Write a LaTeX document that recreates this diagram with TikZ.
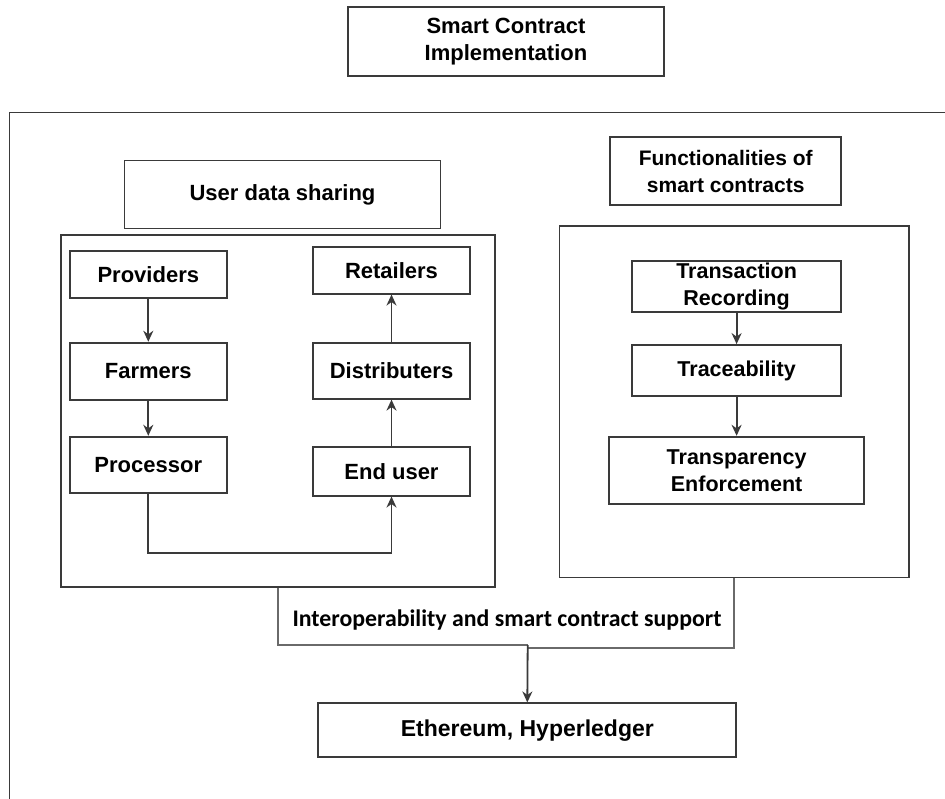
\documentclass[tikz,border=0pt]{standalone}
\usepackage{fontspec}
\setmainfont{Liberation Sans}
\newfontfamily\calfont{Carlito}
\usetikzlibrary{arrows.meta}
\definecolor{linec}{HTML}{3A3A3A}
\definecolor{linel}{HTML}{6A6A6A}
\begin{document}
\begin{tikzpicture}[x=1pt,y=-1pt,
  box/.style={draw=linec, line width=1.8pt, align=center, inner sep=0pt,
    font=\bfseries\fontsize{22}{27}\selectfont, text=black},
  frame/.style={draw=linec, line width=1.8pt, inner sep=0pt},
  arr/.style={draw=linec, line width=1.8pt, -{Stealth[length=11pt,width=10pt]}},
  link/.style={draw=linel, line width=1.8pt}]
\useasboundingbox (0,0) rectangle (945,799);
\fill[white] (0,0) rectangle (945,799);
% outer frame (extends beyond the picture)
\draw[linec, line width=1.8pt] (9.5,799) -- (9.5,112.5) -- (945,112.5);

\node[box, minimum width=316pt, minimum height=69pt] (title) at (506,41.5) {Smart Contract\\Implementation};

% left group
\node[box, minimum width=316pt, minimum height=68pt] (uds) at (282.5,194.5) {User data sharing};
\node[frame, minimum width=434.6pt, minimum height=351.4pt] (lc) at (278,411) {};
\node[box, minimum width=157pt, minimum height=47pt] (prov) at (148.3,274.5) {Providers};
\node[box, minimum width=157pt, minimum height=57.3pt] (farm) at (148.3,371.3) {Farmers};
\node[box, minimum width=157pt, minimum height=56pt] (proc) at (148.3,464.7) {Processor};
\node[box, minimum width=157pt, minimum height=46.7pt] (ret) at (391.5,270.3) {Retailers};
\node[box, minimum width=157pt, minimum height=56pt] (dist) at (391.5,370.7) {Distributers};
\node[box, minimum width=157pt, minimum height=48.7pt] (endu) at (391.5,471.3) {End user};

\draw[arr] (prov.south) -- (farm.north);
\draw[arr] (farm.south) -- (proc.north);
\coordinate (c1) at (148.3,553.3);
\coordinate (c2) at (391.5,553.3);
\draw[arr] (proc.south) -- (c1) -- (c2) -- (endu.south);
\draw[arr] (endu.north) -- (dist.south);
\draw[arr] (dist.north) -- (ret.south);

% right group
\node[box, font=\bfseries\fontsize{21}{27}\selectfont, minimum width=231pt, minimum height=68pt] (func) at (725.7,171.2) {Functionalities of\\smart contracts};
\node[frame, minimum width=349.5pt, minimum height=351.5pt] (rc) at (734.2,401.7) {};
\node[box, font=\bfseries\fontsize{21.5}{27}\selectfont, minimum width=208.7pt, minimum height=51pt] (trans) at (736.6,286.8) {Transaction\\Recording};
\node[box, font=\bfseries\fontsize{21.5}{27}\selectfont, minimum width=208.7pt, minimum height=51pt] (trace) at (736.6,370.5) {Traceability};
\node[box, font=\bfseries\fontsize{21.5}{27}\selectfont, minimum width=254.7pt, minimum height=67.6pt] (transp) at (736.6,470.5) {Transparency\\Enforcement};
\draw[arr] (trans.south) -- (trace.north);
\draw[arr] (trace.south) -- (transp.north);

% bottom
\node[box, font=\bfseries\fontsize{23}{27}\selectfont, minimum width=418pt, minimum height=53.7pt] (eth) at (527.3,730.2) {Ethereum, Hyperledger};
\coordinate (j1) at (278,645);
\coordinate (j2) at (527.7,645);
\coordinate (j3) at (734.3,648.3);
\coordinate (j4) at (527.7,648.3);
\draw[link] (lc.south) -- (j1) -- (j2);
\draw[link] (rc.south -| j3) -- (j3) -- (j4);
\draw[arr] (j2) -- (eth.north);
\node[anchor=base, font=\calfont\bfseries\fontsize{23.8}{27}\selectfont, text=black, inner sep=0pt] (lab) at (507,626.7) {Interoperability and smart contract support};
\end{tikzpicture}
\end{document}
